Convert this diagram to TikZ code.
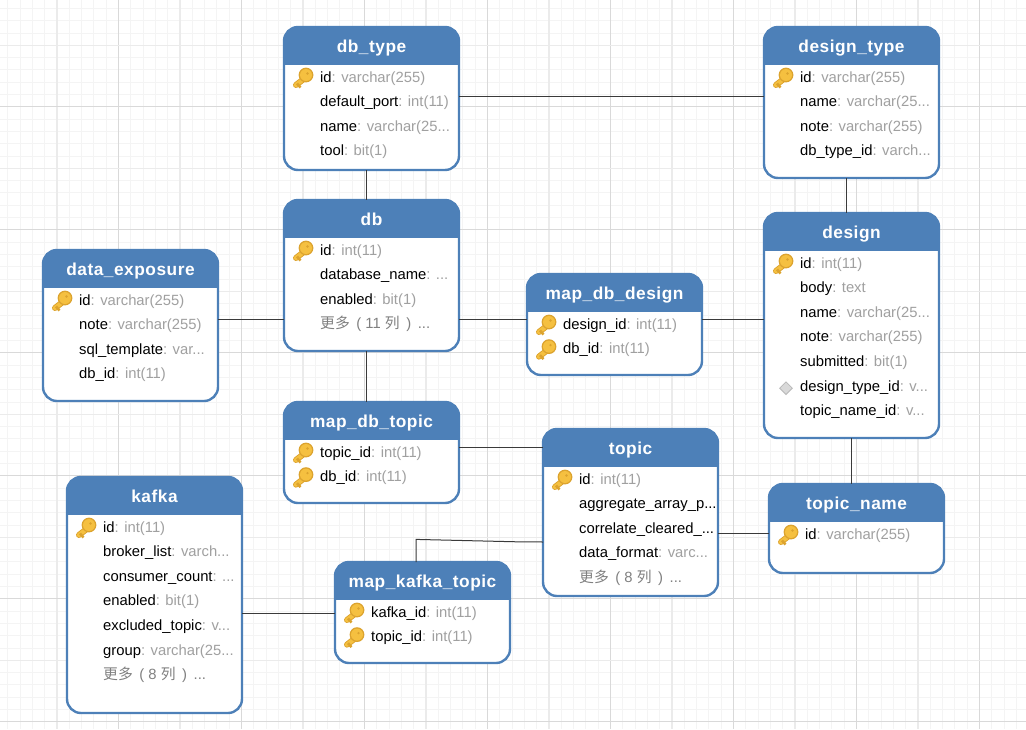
\documentclass[tikz,border=0pt]{standalone}
\usepackage{fontspec}
\usetikzlibrary{shapes.geometric,calc}
\setmainfont{Liberation Sans}
\newfontfamily\cjkfont{Noto Sans CJK SC}
\newfontfamily\titlefont[LetterSpace=3]{Liberation Sans}
\definecolor{hdr}{HTML}{4D80B8}
\definecolor{typec}{HTML}{A0A0A0}
\definecolor{morec}{HTML}{808080}
\definecolor{conn}{HTML}{3A3A3A}
\definecolor{gridminor}{HTML}{F4F4F4}
\definecolor{gridlight}{HTML}{EBEBEB}
\definecolor{griddark}{HTML}{D9D9D9}
\definecolor{keyfill}{HTML}{F5C040}
\definecolor{keyedge}{HTML}{DCA32E}
\tikzset{
  tablebox/.style={draw=hdr,line width=2.4pt,fill=white,rounded corners=14pt,rectangle,anchor=north west,minimum width=175pt,outer sep=0pt,inner sep=0pt},
  titletext/.style={text=white,font=\fontsize{17.3}{20}\selectfont\titlefont\bfseries,anchor=base,inner sep=0pt},
  fieldtext/.style={anchor=base west,inner sep=0pt,font=\fontsize{14.8}{17}\selectfont},
  link/.style={draw=conn,line width=1pt},
  fkmark/.style={diamond,draw=black!28,fill=black!15,line width=.8pt,minimum width=13pt,minimum height=13pt,inner sep=0pt},
  keyicon/.pic={
    \draw[line width=6pt,draw=keyedge,line cap=round] (-1,1) -- (-10,8);
    \draw[line width=4.2pt,draw=keyfill,line cap=round] (-1,1) -- (-10,8);
    \draw[line width=2.6pt,draw=keyedge] (-9,6.5) -- (-5.5,10.5);
    \fill[keyedge] (0,-2) circle (7.4pt);
    \fill[keyfill] (0,-2) circle (6pt);
    \fill[keyedge] (1.5,-3.5) circle (1.3pt);
  }
}
\newcommand{\fld}[2]{#1\textcolor{typec}{: #2}}
\newcommand{\more}[1]{\textcolor{morec}{{\cjkfont 更多}\, ( #1 {\cjkfont 列}\, )\, ...}}
% name, x, y top, height, title, rows
\newcommand{\ertable}[6]{%
  \node[tablebox,minimum height=#4pt] (#1) at (#2,#3) {};
  \begin{scope}
    \clip (#2-3,#3-3) rectangle (#2+178,#3+37.6);
    \fill[hdr,rounded corners=14pt] (#2,#3) rectangle (#2+175,#3+#4);
  \end{scope}
  \node[titletext] (#1-title) at (#2+87.5,#3+25) {#5};
  \foreach \ic/\txt [count=\r from 0] in {#6}{
    \pgfmathsetmacro{\rowy}{#3+50+24.63*\r}
    \if\ic k\pic at (#2+22,\rowy) {keyicon};\fi
    \if\ic d\node[fkmark] (#1-mark-\r) at (#2+22,\rowy+2) {};\fi
    \node[fieldtext] (#1-row-\r) at (#2+36,\rowy+5) {\txt};
  }
}
\begin{document}
\begin{tikzpicture}[x=1pt,y=-1pt]
\useasboundingbox (0,0) rectangle (1026,729);
\fill[white] (0,0) rectangle (1026,729);
% grid
\foreach \k in {0,...,84}{
  \draw[gridminor,line width=1pt] (-4.5+12.3*\k,0) -- (-4.5+12.3*\k,729);
}
\foreach \k in {-4,...,60}{
  \draw[gridminor,line width=1pt] (0,45.3+12.3*\k) -- (1026,45.3+12.3*\k);
}
\foreach \k in {0,2,...,16}{
  \draw[gridlight,line width=1.6pt] (57+61.5*\k,0) -- (57+61.5*\k,729);
  \draw[griddark,line width=1pt] (118.5+61.5*\k,0) -- (118.5+61.5*\k,729);
}
\foreach \k in {0,2,...,10}{
  \draw[gridlight,line width=1.6pt] (0,45.3+61.5*\k) -- (1026,45.3+61.5*\k);
  \draw[griddark,line width=1pt] (0,106.8+61.5*\k) -- (1026,106.8+61.5*\k);
}
% tables
\ertable{dbtype}{284}{27}{143}{db\_type}{k/\fld{id}{varchar(255)},n/\fld{default\_port}{int(11)},n/\fld{name}{varchar(25...},n/\fld{tool}{bit(1)}}
\ertable{designtype}{764}{27}{151}{design\_type}{k/\fld{id}{varchar(255)},n/\fld{name}{varchar(25...},n/\fld{note}{varchar(255)},n/\fld{db\_type\_id}{varch...}}
\ertable{db}{284}{200}{151}{db}{k/\fld{id}{int(11)},n/\fld{database\_name}{...},n/\fld{enabled}{bit(1)},n/\more{11}}
\ertable{design}{764}{213}{225}{design}{k/\fld{id}{int(11)},n/\fld{body}{text},n/\fld{name}{varchar(25...},n/\fld{note}{varchar(255)},n/\fld{submitted}{bit(1)},d/\fld{design\_type\_id}{v...},n/\fld{topic\_name\_id}{v...}}
\ertable{dataexposure}{43}{250}{151}{data\_exposure}{k/\fld{id}{varchar(255)},n/\fld{note}{varchar(255)},n/\fld{sql\_template}{var...},n/\fld{db\_id}{int(11)}}
\ertable{mapdbdesign}{527}{274}{101}{map\_db\_design}{k/\fld{design\_id}{int(11)},k/\fld{db\_id}{int(11)}}
\ertable{mapdbtopic}{284}{402}{101}{map\_db\_topic}{k/\fld{topic\_id}{int(11)},k/\fld{db\_id}{int(11)}}
\ertable{topic}{543}{429}{167}{topic}{k/\fld{id}{int(11)},n/{aggregate\_array\_p...},n/{correlate\_cleared\_...},n/\fld{data\_format}{varc...},n/\more{8}}
\ertable{kafka}{67}{477}{236}{kafka}{k/\fld{id}{int(11)},n/\fld{broker\_list}{varch...},n/\fld{consumer\_count}{...},n/\fld{enabled}{bit(1)},n/\fld{excluded\_topic}{v...},n/\fld{group}{varchar(25...},n/\more{8}}
\ertable{mapkafkatopic}{335}{562}{101}{map\_kafka\_topic}{k/\fld{kafka\_id}{int(11)},k/\fld{topic\_id}{int(11)}}
\ertable{topicname}{769}{484}{89}{topic\_name}{k/\fld{id}{varchar(255)}}
% connectors
\draw[link] ([xshift=-5.5pt]dbtype.south) -- ([xshift=-5.5pt]db.north);
\draw[link] ([yshift=2.5pt]dbtype.east) -- ([yshift=6.5pt]designtype.west);
\draw[link] ([xshift=-5.5pt]designtype.south) -- ([xshift=-5.5pt]design.north);
\draw[link] ([yshift=6.5pt]dataexposure.east) -- ([yshift=-43.5pt]db.west);
\draw[link] ([yshift=-43.5pt]db.east) -- ([yshift=5.5pt]mapdbdesign.west);
\draw[link] ([yshift=5.5pt]mapdbdesign.east) -- ([yshift=5.5pt]mapdbdesign.east -| design.west);
\draw[link] ([xshift=-5.5pt]db.south) -- ([xshift=-5.5pt]mapdbtopic.north);
\draw[link] ([yshift=5.5pt]mapdbtopic.east) -- ([yshift=5.5pt]mapdbtopic.east -| topic.west);
\draw[link] ([xshift=-0.5pt]design.south) -- ([xshift=-5.5pt]topicname.north);
\draw[link] ([yshift=-20.5pt]topic.east) -- ([yshift=-20.5pt]topic.east -| topicname.west);
\draw[link] ([yshift=-29.5pt]topic.west) -- ++(-26,-.2) -- ++(-101,-2.4) -- ([xshift=-6.5pt]mapkafkatopic.north);
\draw[link] ([yshift=-18pt]kafka.east) -- ([yshift=-18pt]kafka.east -| mapkafkatopic.west);
\end{tikzpicture}
\end{document}
